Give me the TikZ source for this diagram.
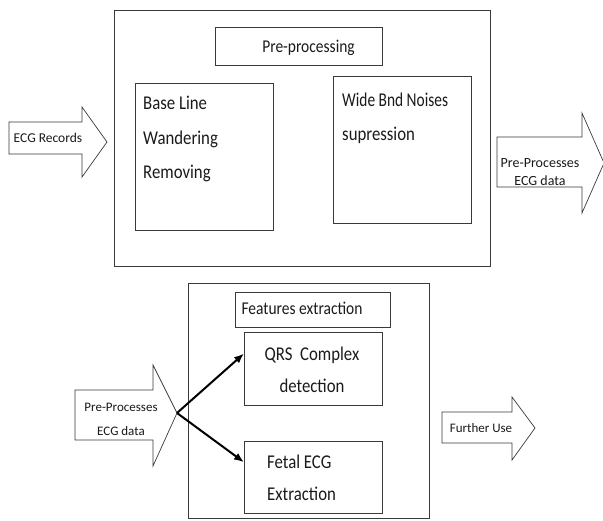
\documentclass[tikz,border=0pt]{standalone}
\usepackage{fontspec}
\setmainfont{Carlito}
\newfontfamily\narrowfont{Carlito}[FakeStretch=0.86]
\newfontfamily\narrowerfont{Carlito}[FakeStretch=0.79]
\usetikzlibrary{calc,arrows.meta}
\definecolor{linegray}{HTML}{3A3A3A}
\definecolor{textblack}{HTML}{1A1A1A}
\begin{document}
\begin{tikzpicture}[x=1pt,y=-1pt,
  box/.style={draw=linegray, line width=1.2pt, rectangle, inner sep=0pt, anchor=north west},
  thinbox/.style={draw=linegray, line width=1pt, rectangle, inner sep=0pt, anchor=north west},
  fatarrow/.style={draw=linegray, line width=0.7pt, fill=white, line join=miter},
  bigtext/.style={font=\narrowfont\fontsize{19.5}{24}\selectfont, inner sep=0pt, text=textblack, anchor=base west},
  midtext/.style={font=\narrowfont\fontsize{18}{22}\selectfont, inner sep=0pt, text=textblack, anchor=base},
  smalltext/.style={font=\fontsize{13.5}{16}\selectfont, inner sep=0pt, text=textblack, anchor=base},
  link/.style={draw=black, line width=2pt, -{Latex[length=10pt,width=8pt]}}
]
\useasboundingbox (0,0) rectangle (603,520);

% ---------- top part ----------
\node[box, minimum width=376pt, minimum height=256pt] (prebox) at (114,10) {};
\node[thinbox, minimum width=167pt, minimum height=38pt] (prelabel) at (215,27) {};
\node[midtext] (pretext) at (308.5,52) {Pre-processing};

\node[box, minimum width=138pt, minimum height=147pt] (blbox) at (135,83) {};
\node[bigtext] (bl1) at (143,109) {Base Line};
\node[bigtext] (bl2) at (143,144) {Wandering};
\node[bigtext] (bl3) at (143,178) {Removing};

\node[box, minimum width=138pt, minimum height=147pt] (wbbox) at (333,76) {};
\node[bigtext, font=\narrowerfont\fontsize{19.5}{24}\selectfont] (wb1) at (342,106) {Wide Bnd Noises};
\node[bigtext] (wb2) at (342,140) {supression};

% input arrow
\draw[fatarrow] (9,122) -- (82,122) -- (82,107) -- (107,142) -- (82,177) -- (82,154) -- (9,154) -- cycle;
\node[smalltext] (ecgrec) at (48,142) {ECG Records};

% output arrow
\draw[fatarrow] (497,137) -- (582,137) -- (582,113) -- (604,163) -- (582,213) -- (582,187) -- (497,187) -- cycle;
\node[smalltext, font=\fontsize{14}{16}\selectfont] (out1) at (540,167) {Pre-Processes};
\node[smalltext, font=\fontsize{14}{16}\selectfont] (out2) at (540,185) {ECG data};

% ---------- bottom part ----------
\node[box, minimum width=241pt, minimum height=235pt] (febox) at (188,283) {};
\node[thinbox, minimum width=155pt, minimum height=35pt] (felabel) at (235,292) {};
\node[midtext] (fetext) at (302,314) {Features extraction};

\node[box, minimum width=138pt, minimum height=73pt] (qrsbox) at (244,332) {};
\node[bigtext, anchor=base] (qrs1) at (312,360) {QRS\ \ Complex};
\node[bigtext, anchor=base] (qrs2) at (312,392) {detection};

\node[box, minimum width=138pt, minimum height=72pt] (fetbox) at (244,441) {};
\node[bigtext] (fet1) at (267,468) {Fetal ECG};
\node[bigtext] (fet2) at (267,500) {Extraction};

% input arrow bottom
\draw[fatarrow] (75,390) -- (153,390) -- (153,365) -- (177,413) -- (153,466) -- (153,440) -- (75,440) -- cycle;
\coordinate (ltip) at (177,413);
\node[smalltext, font=\fontsize{13}{16}\selectfont] (in1) at (121,411) {Pre-Processes};
\node[smalltext, font=\fontsize{13}{16}\selectfont] (in2) at (121,435) {ECG data};

% further use arrow
\draw[fatarrow] (442,412) -- (512,412) -- (512,397) -- (535,428) -- (512,460) -- (512,443) -- (442,443) -- cycle;
\node[smalltext, font=\fontsize{13}{16}\selectfont] (fu) at (481,432) {Further Use};

% connectors
\draw[link] (ltip) -- ($(qrsbox.north west)!0.29!(qrsbox.south west)$);
\draw[link] (ltip) -- ($(fetbox.north west)!0.29!(fetbox.south west)$);
\end{tikzpicture}
\end{document}
